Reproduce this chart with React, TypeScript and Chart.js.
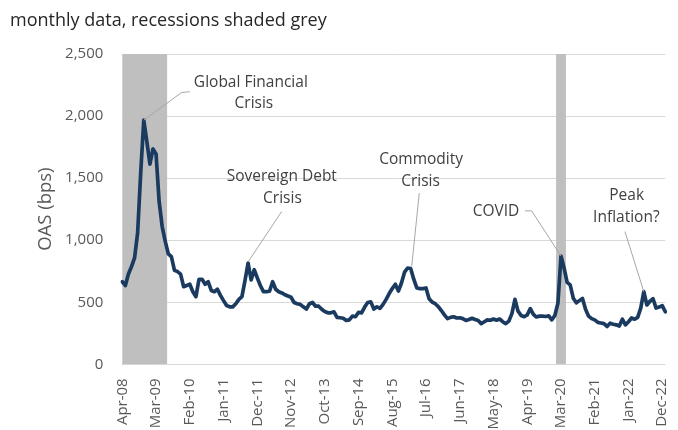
import React, { useEffect, useRef } from 'react';
import { Chart, registerables } from 'chart.js';

Chart.register(...registerables);

const MONTH_NAMES = ['Jan', 'Feb', 'Mar', 'Apr', 'May', 'Jun', 'Jul', 'Aug', 'Sep', 'Oct', 'Nov', 'Dec'];
const FIRST_YEAR = 2008;
const FIRST_MONTH = 3; // April
const MONTH_COUNT = 178;

const categories: string[] = Array.from({ length: MONTH_COUNT }, (_, i) => {
  const m = (FIRST_MONTH + i) % 12;
  const y = FIRST_YEAR + Math.floor((FIRST_MONTH + i) / 12);
  return `${MONTH_NAMES[m]}-${String(y % 100).padStart(2, '0')}`;
});

const tickLabels = [
  'Apr-08', 'Mar-09', 'Feb-10', 'Jan-11', 'Dec-11', 'Nov-12', 'Oct-13', 'Sep-14', 'Aug-15',
  'Jul-16', 'Jun-17', 'May-18', 'Apr-19', 'Mar-20', 'Feb-21', 'Jan-22', 'Dec-22',
];

// High-yield OAS, bps, monthly
const oasValues = [
  665, 635, 727, 787, 857, 1060, 1543, 1967, 1795, 1613, 1735, 1695, 1313, 1110, 990, 890, 867, 757, 747, 727,
  625, 635, 645, 585, 545, 685, 685, 645, 665, 595, 585, 605, 555, 513, 473, 463, 463, 488, 523, 545,
  675, 815, 680, 762, 697, 635, 585, 585, 590, 665, 605, 585, 575, 560, 550, 540, 498, 488, 483, 463,
  445, 488, 498, 468, 468, 443, 425, 415, 415, 423, 378, 375, 371, 353, 358, 388, 383, 418, 415, 461,
  498, 503, 445, 463, 451, 483, 523, 570, 610, 645, 590, 655, 742, 776, 772, 686, 615, 610, 610, 615,
  528, 501, 488, 465, 433, 398, 368, 378, 383, 373, 375, 368, 353, 361, 371, 361, 353, 328, 343, 358,
  355, 365, 355, 365, 343, 328, 348, 408, 523, 428, 393, 383, 398, 448, 403, 381, 388, 388, 385, 391,
  358, 393, 493, 872, 776, 660, 640, 533, 495, 513, 531, 443, 388, 368, 358, 338, 333, 328, 305, 331,
  323, 318, 308, 363, 318, 343, 373, 363, 378, 453, 585, 478, 508, 528, 453, 461, 473, 423,
];

const recessionMonths = [
  'Apr-08', 'May-08', 'Jun-08', 'Jul-08', 'Aug-08', 'Sep-08', 'Oct-08', 'Nov-08', 'Dec-08',
  'Jan-09', 'Feb-09', 'Mar-09', 'Apr-09', 'May-09', 'Jun-09',
  'Feb-20', 'Mar-20', 'Apr-20',
];

const Y_MIN = 0;
const Y_MAX = 2500;
const Y_STEP = 500;

type Ann = {
  texts: { t: string; i: number; v: number }[];
  leader: [number, number][];
};

const annotations: Ann[] = [
  {
    texts: [
      { t: 'Global Financial', i: 41.9, v: 2271 },
      { t: 'Crisis', i: 42.9, v: 2099 },
    ],
    leader: [[7, 1967], [19.36, 2190], [22.07, 2196]],
  },
  {
    texts: [
      { t: 'Sovereign Debt', i: 52.0, v: 1511 },
      { t: 'Crisis', i: 52.2, v: 1339 },
    ],
    leader: [[41.07, 827], [51.96, 1231]],
  },
  {
    texts: [
      { t: 'Commodity', i: 97.4, v: 1653 },
      { t: 'Crisis', i: 97.2, v: 1473 },
    ],
    leader: [[94.33, 787], [96.8, 1379]],
  },
  {
    texts: [{ t: 'COVID', i: 121.8, v: 1231 }],
    leader: [[131.26, 1236], [133.44, 1236], [143, 872]],
  },
  {
    texts: [
      { t: 'Peak', i: 164.4, v: 1357 },
      { t: 'Inflation?', i: 164.3, v: 1182 },
    ],
    leader: [[163.85, 1069], [170, 585]],
  },
];

const FONT = "'Open Sans', 'Noto Sans', sans-serif";

const annotationPlugin = {
  id: 'calloutAnnotations',
  afterDatasetsDraw(chart: any) {
    const { ctx, scales } = chart;
    const xs = scales.x;
    const ys = scales.y;
    ctx.save();
    ctx.strokeStyle = '#A6A6A6';
    ctx.lineWidth = 1;
    for (const a of annotations) {
      ctx.beginPath();
      a.leader.forEach(([i, v], k) => {
        const px = xs.getPixelForValue(i);
        const py = ys.getPixelForValue(v);
        if (k === 0) ctx.moveTo(px, py);
        else ctx.lineTo(px, py);
      });
      ctx.stroke();
    }
    ctx.fillStyle = '#404040';
    ctx.font = `15.5px ${FONT}`;
    ctx.textAlign = 'center';
    ctx.textBaseline = 'middle';
    for (const a of annotations) {
      for (const t of a.texts) {
        ctx.fillText(t.t, xs.getPixelForValue(t.i), ys.getPixelForValue(t.v));
      }
    }
    ctx.restore();
  },
};

export default function App() {
  const canvasRef = useRef<HTMLCanvasElement | null>(null);

  useEffect(() => {
    if (!canvasRef.current) return;
    Chart.defaults.font.family = FONT;
    const recessionData = categories.map((c) => (recessionMonths.includes(c) ? Y_MAX : null));
    const chart = new Chart(canvasRef.current, {
      type: 'line',
      data: {
        labels: categories,
        datasets: [
          {
            type: 'line',
            label: 'OAS',
            data: oasValues,
            borderColor: '#1B3A60',
            borderWidth: 3.7,
            pointRadius: 0,
            tension: 0,
            borderJoinStyle: 'round',
            borderCapStyle: 'round',
            fill: false,
            order: 1,
          } as any,
          {
            type: 'bar',
            label: 'Recession',
            data: recessionData,
            backgroundColor: '#BFBFBF',
            borderWidth: 0,
            barPercentage: 1,
            categoryPercentage: 1,
            order: 2,
          } as any,
        ],
      },
      options: {
        animation: false,
        responsive: false,
        devicePixelRatio: 1,
        layout: { padding: { left: 0, right: 12.7, top: 54, bottom: 0 } },
        plugins: {
          legend: { display: false },
          tooltip: { enabled: false },
          title: { display: false },
        },
        scales: {
          x: {
            type: 'category',
            offset: false,
            grid: { display: false, drawTicks: false, offset: false },
            border: { display: false },
            ticks: {
              autoSkip: false,
              minRotation: 90,
              maxRotation: 90,
              padding: 14,
              color: '#595959',
              font: { size: 15 },
              callback: (_v: any, index: number) =>
                tickLabels.includes(categories[index]) ? categories[index] : '',
            },
            afterFit: (s: any) => {
              s.height = 85.7;
              s.paddingLeft = 0;
              s.paddingRight = 0;
            },
          },
          y: {
            min: Y_MIN,
            max: Y_MAX,
            ticks: { stepSize: Y_STEP, padding: 19, color: '#595959', font: { size: 15 } },
            grid: { color: '#D9D9D9', lineWidth: 1, drawTicks: false },
            border: { display: false },
            title: {
              display: true,
              text: 'OAS (bps)',
              color: '#595959',
              font: { size: 18.5 },
              padding: { top: 34.4, bottom: 0 },
            },
            afterFit: (s: any) => {
              s.width = 122.3;
              s.paddingTop = 0;
              s.paddingBottom = 0;
            },
          },
        } as any,
      },
      plugins: [annotationPlugin],
    });
    return () => chart.destroy();
  }, []);

  return (
    <div
      style={{
        position: 'fixed',
        left: 0,
        top: 0,
        width: 678,
        height: 430,
        overflow: 'hidden',
        background: '#fff',
      }}
    >
      <div
        style={{
          position: 'absolute',
          left: 10,
          top: 7,
          fontFamily: FONT,
          fontSize: 18,
          color: '#262626',
          whiteSpace: 'nowrap',
        }}
      >
        monthly data, recessions shaded grey
      </div>
      <canvas ref={canvasRef} width={678} height={450} style={{ display: 'block' }} />
    </div>
  );
}
